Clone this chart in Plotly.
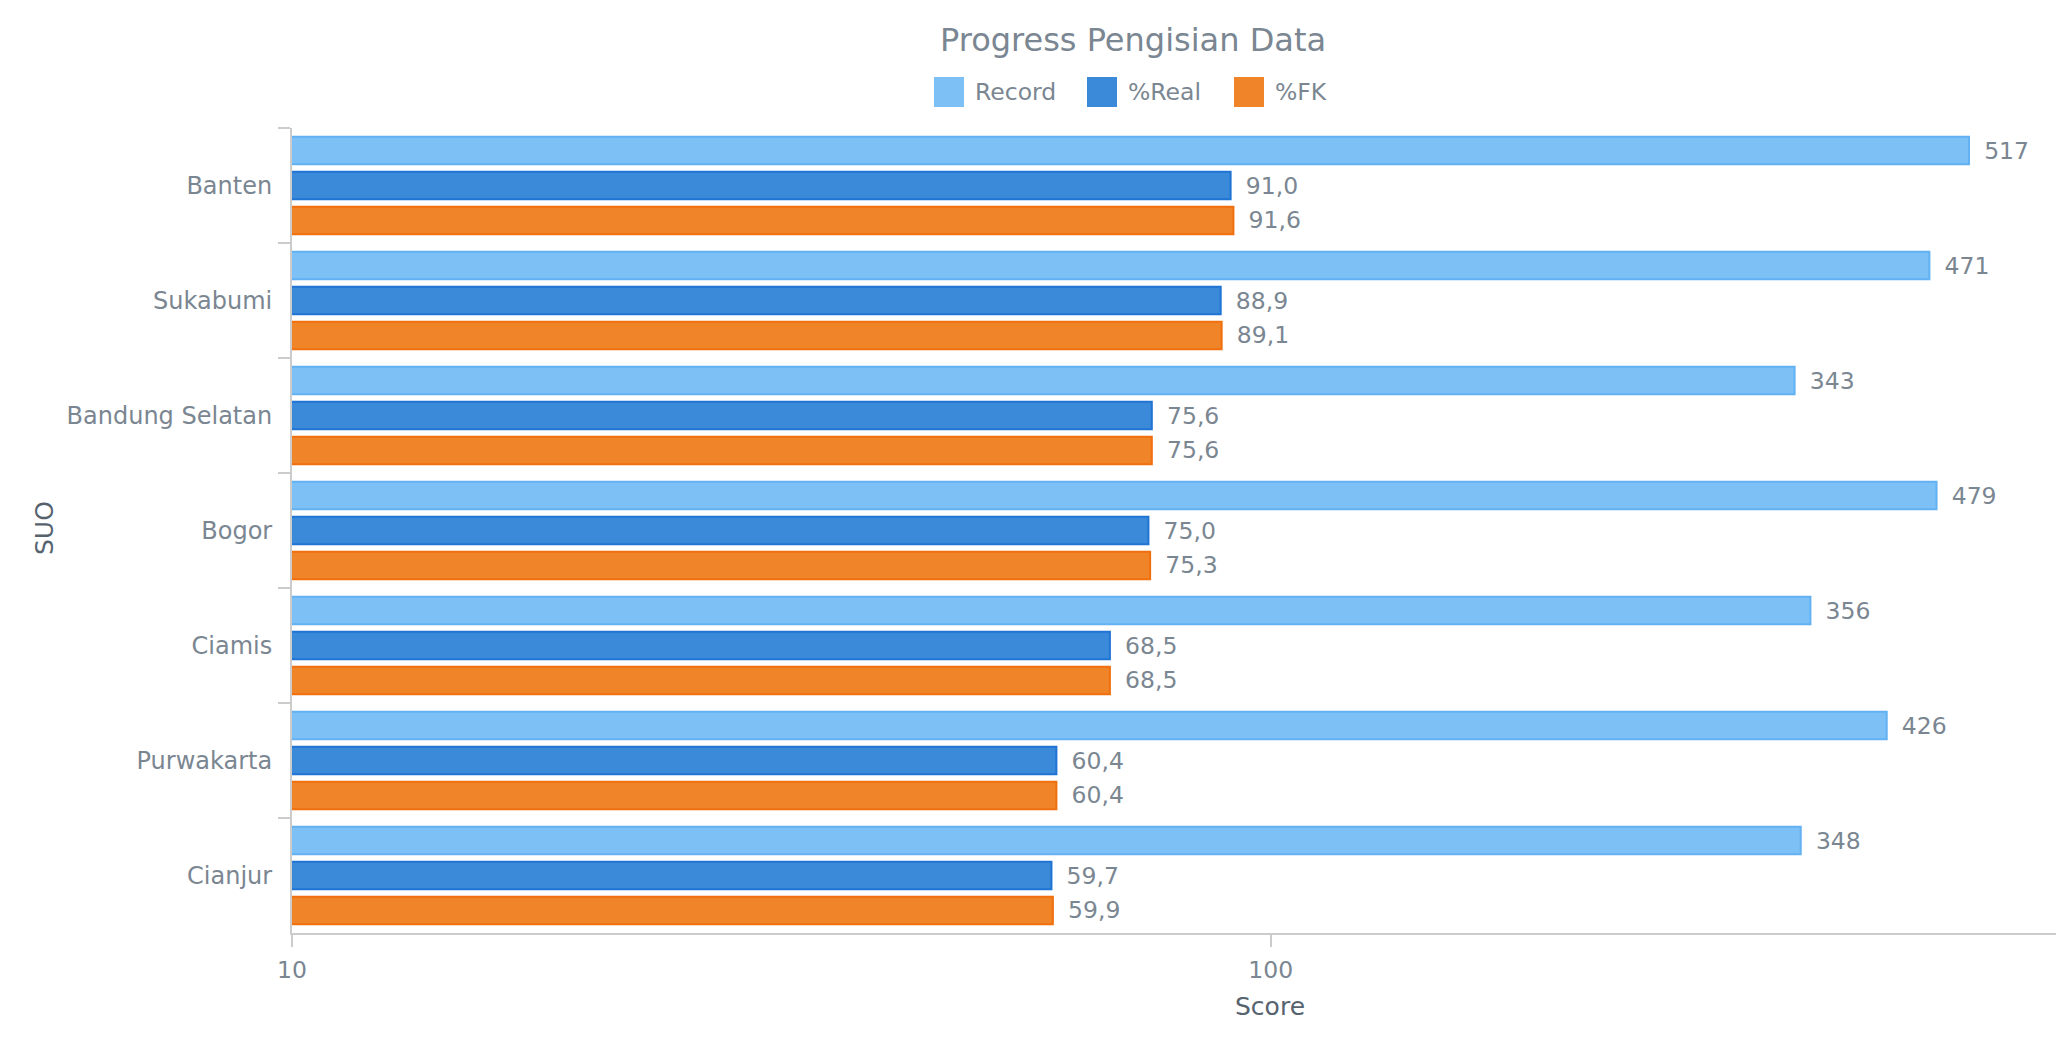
import plotly.graph_objects as go

# ---- data ----
categories = ["Banten", "Sukabumi", "Bandung Selatan", "Bogor", "Ciamis", "Purwakarta", "Cianjur"]
record = [517, 471, 343, 479, 356, 426, 348]
pct_real = [91.0, 88.9, 75.6, 75.0, 68.5, 60.4, 59.7]
pct_fk = [91.6, 89.1, 75.6, 75.3, 68.5, 60.4, 59.9]
series_names = ["Record", "%Real", "%FK"]
x_ticks = [10, 100]

# ---- style ----
FONT = "DejaVu Sans"
TXT = "#7a8691"
AXT = "#56636f"
fills = ["#7cc0f6", "#3b89d9", "#f08428"]
lines = ["#62b1f3", "#1f74d4", "#f06f0e"]
fmts = ["%{x:.0f}", "%{x:.1f}", "%{x:.1f}"]

W, H = 2056, 1041
L, R, T, B = 292, 2056, 128, 933

fig = go.Figure()
for name, vals, fc, lc, fm in zip(series_names, [record, pct_real, pct_fk], fills, lines, fmts):
    fig.add_trace(go.Bar(
        y=categories, x=vals, name=name, orientation="h",
        marker=dict(color=fc, line=dict(color=lc, width=2)),
        texttemplate="\u00a0\u2009" + fm, textposition="outside",
        textfont=dict(family=FONT, size=23.5, color=TXT),
        constraintext="none", cliponaxis=False, showlegend=False,
    ))

def px_x(p):
    return (p - L) / (R - L)

def px_y(p):
    return (B - p) / (B - T)

# custom legend (large square swatches)
leg_starts = [934, 1087, 1234]
shapes = []
annots = []
for name, fc, lc, xs in zip(series_names, fills, lines, leg_starts):
    shapes.append(dict(type="rect", xref="paper", yref="paper",
                       x0=px_x(xs), x1=px_x(xs + 30), y0=px_y(107), y1=px_y(77),
                       fillcolor=fc, line=dict(width=0)))
    annots.append(dict(text=name, xref="paper", yref="paper", x=px_x(xs + 39), y=px_y(92),
                       xanchor="left", yanchor="middle", showarrow=False,
                       font=dict(family=FONT, size=23.5, color=TXT)))

# axis titles
annots.append(dict(text="Score", xref="paper", yref="paper", x=px_x(1270), y=px_y(1006),
                   xanchor="center", yanchor="middle", showarrow=False,
                   font=dict(family=FONT, size=25, color=AXT)))
annots.append(dict(text="SUO", xref="paper", yref="paper", x=px_x(44), y=px_y(528),
                   xanchor="center", yanchor="middle", showarrow=False, textangle=-90,
                   font=dict(family=FONT, size=25, color=AXT)))

fig.update_layout(
    width=W, height=H, autosize=False,
    margin=dict(l=L, r=W - R, t=T, b=H - B, pad=0),
    paper_bgcolor="white", plot_bgcolor="white",
    separators=", ",
    barmode="group", bargap=0.087, bargroupgap=0.214,
    font=dict(family=FONT, color=TXT),
    title=dict(text="Progress Pengisian Data", x=1133 / W, xanchor="center",
               y=1 - 40 / H, yanchor="middle", yref="container",
               font=dict(family=FONT, size=32, color=TXT)),
    shapes=shapes, annotations=annots,
    xaxis=dict(type="log", range=[1, 1 + (R - L) / 978.7],
               tickvals=x_ticks, ticktext=[str(v) for v in x_ticks],
               showgrid=False, zeroline=False,
               showline=True, linecolor="#cccccc", linewidth=2,
               ticks="outside", ticklen=12, tickwidth=2, tickcolor="#cccccc",
               ticklabelstandoff=3,
               tickfont=dict(family=FONT, size=23.5, color=TXT)),
    yaxis=dict(type="category", autorange="reversed",
               showgrid=False, zeroline=False,
               showline=True, linecolor="#cccccc", linewidth=2,
               ticks="outside", tickson="boundaries", ticklen=12, tickwidth=2, tickcolor="#cccccc",
               ticklabelstandoff=13,
               tickfont=dict(family=FONT, size=24, color=TXT)),
)

fig.write_html("out.html", config={"displayModeBar": False},
               post_script="document.body.style.margin='0';document.body.style.overflow='hidden';")
